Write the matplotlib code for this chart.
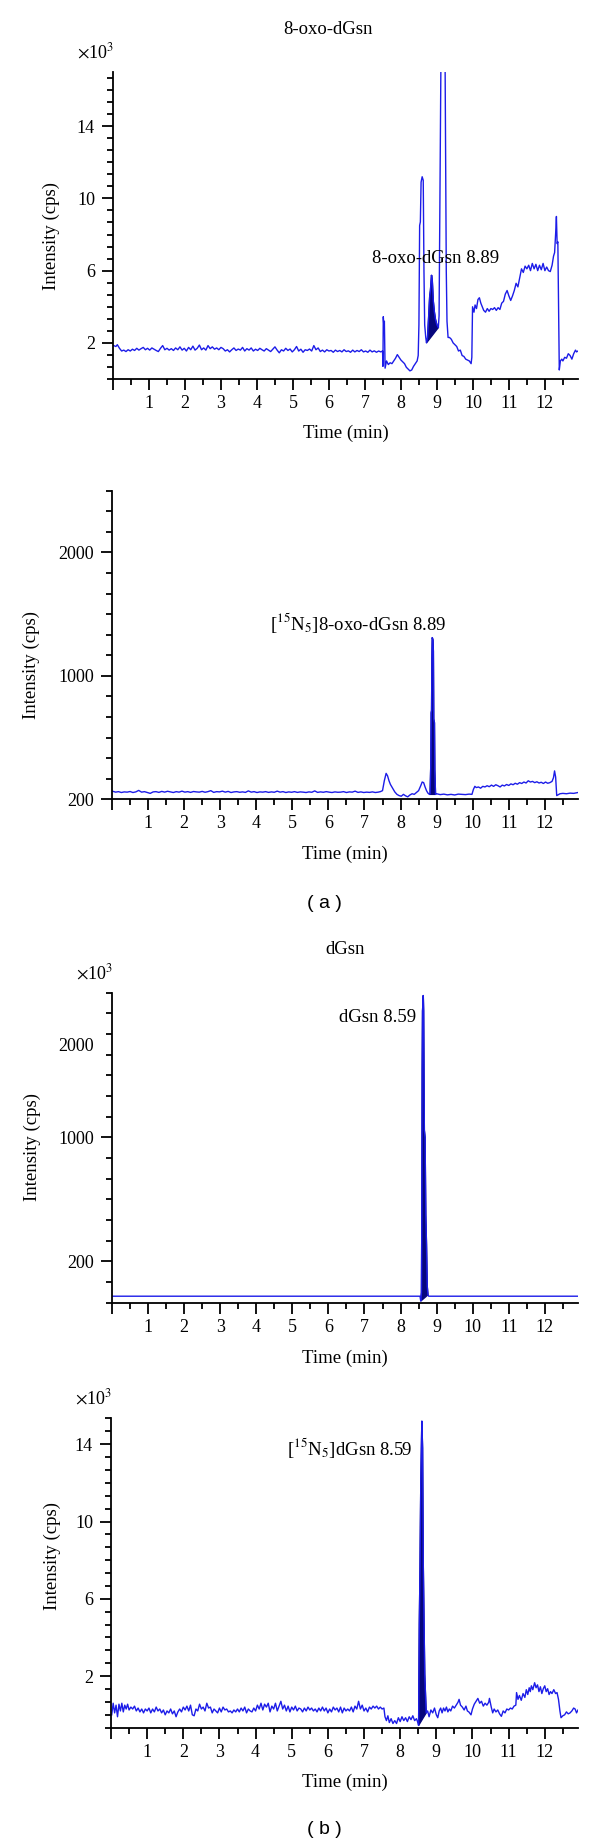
import matplotlib

matplotlib.use("Agg")
import matplotlib.pyplot as plt
import numpy as np
from matplotlib.ticker import FixedLocator, FuncFormatter, MultipleLocator

plt.rcParams["font.family"] = ["Liberation Serif", "DejaVu Serif"]
plt.rcParams["mathtext.fontset"] = "stix"

LINE = "#1c1ce8"
PEAK = "#06067c"

# --- data (time in min) ------------------------------------------------------
# (a) top: 8-oxo-dGsn, intensity x10^3 cps
OXO = [
    (0.02, 1.85), (0.08, 1.8), (0.12, 1.9), (0.18, 1.7), (0.24, 1.55), (0.3, 1.6), (0.36, 1.52),
    (0.42, 1.62), (0.48, 1.55), (0.54, 1.65), (0.6, 1.58), (0.66, 1.7), (0.72, 1.6), (0.78, 1.68),
    (0.84, 1.75), (0.9, 1.62), (0.96, 1.7), (1.02, 1.6), (1.08, 1.72), (1.14, 1.65), (1.2, 1.58),
    (1.26, 1.52), (1.32, 1.7), (1.38, 1.85), (1.44, 1.62), (1.5, 1.7), (1.56, 1.6), (1.62, 1.68),
    (1.68, 1.58), (1.74, 1.72), (1.8, 1.62), (1.86, 1.78), (1.92, 1.6), (1.98, 1.7), (2.04, 1.55),
    (2.1, 1.75), (2.16, 1.62), (2.22, 1.82), (2.28, 1.6), (2.34, 1.7), (2.4, 1.88), (2.46, 1.62),
    (2.52, 1.72), (2.58, 1.6), (2.64, 1.85), (2.7, 1.68), (2.76, 1.78), (2.82, 1.65), (2.88, 1.72),
    (2.94, 1.62), (3.0, 1.75), (3.06, 1.68), (3.12, 1.55), (3.18, 1.62), (3.24, 1.5), (3.3, 1.62),
    (3.36, 1.72), (3.42, 1.58), (3.48, 1.66), (3.54, 1.6), (3.6, 1.75), (3.66, 1.55), (3.72, 1.68),
    (3.78, 1.6), (3.84, 1.72), (3.9, 1.55), (3.96, 1.65), (4.02, 1.58), (4.08, 1.7), (4.14, 1.62),
    (4.2, 1.55), (4.26, 1.68), (4.32, 1.6), (4.38, 1.52), (4.44, 1.65), (4.5, 1.78), (4.56, 1.6),
    (4.62, 1.45), (4.68, 1.62), (4.74, 1.55), (4.8, 1.7), (4.86, 1.58), (4.92, 1.66), (4.98, 1.5),
    (5.04, 1.62), (5.1, 1.8), (5.16, 1.55), (5.22, 1.65), (5.28, 1.48), (5.34, 1.62), (5.4, 1.58),
    (5.46, 1.66), (5.52, 1.55), (5.58, 1.85), (5.64, 1.62), (5.7, 1.72), (5.76, 1.52), (5.82, 1.6),
    (5.88, 1.5), (5.94, 1.62), (6.0, 1.55), (6.06, 1.58), (6.12, 1.48), (6.18, 1.6), (6.24, 1.52),
    (6.3, 1.58), (6.36, 1.5), (6.42, 1.62), (6.48, 1.52), (6.54, 1.56), (6.6, 1.48), (6.66, 1.6),
    (6.72, 1.5), (6.78, 1.58), (6.84, 1.52), (6.9, 1.62), (6.96, 1.5), (7.02, 1.55), (7.08, 1.48),
    (7.14, 1.6), (7.2, 1.5), (7.26, 1.56), (7.32, 1.48), (7.38, 1.55), (7.44, 1.5), (7.49, 1.55),
    (7.5, 0.7), (7.51, 3.45), (7.53, 2.8), (7.54, 3.2), (7.56, 0.6), (7.6, 1.0), (7.65, 0.8),
    (7.7, 0.9), (7.75, 0.85), (7.8, 1.0), (7.85, 1.15), (7.9, 1.35), (7.95, 1.2), (8.0, 1.05),
    (8.05, 0.95), (8.1, 0.85), (8.15, 0.65), (8.2, 0.55), (8.25, 0.45), (8.3, 0.5), (8.35, 0.7),
    (8.4, 0.85), (8.45, 1.0), (8.48, 1.3), (8.5, 3.0), (8.52, 8.5), (8.54, 8.7), (8.56, 10.9),
    (8.59, 11.2), (8.62, 11.0), (8.64, 6.0), (8.66, 3.0), (8.69, 2.3), (8.71, 2.0), (8.74, 2.3),
    (8.77, 3.4), (8.8, 4.6), (8.82, 4.9), (8.85, 5.75), (8.87, 5.5), (8.9, 4.3), (8.93, 3.7),
    (8.96, 3.3), (9.0, 3.0), (9.04, 2.85), (9.06, 3.5), (9.08, 9.0), (9.1, 14.0), (9.12, 20.0),
    (9.22, 20.0), (9.24, 13.0), (9.26, 6.0), (9.28, 3.2), (9.31, 2.3), (9.35, 2.3), (9.4, 2.2),
    (9.45, 2.0), (9.5, 1.9), (9.55, 1.8), (9.6, 1.55), (9.65, 1.6), (9.7, 1.3), (9.75, 1.25),
    (9.8, 1.1), (9.85, 1.05), (9.9, 1.0), (9.95, 0.85), (9.97, 1.2), (9.99, 4.0), (10.03, 3.7),
    (10.06, 4.1), (10.1, 3.9), (10.14, 4.4), (10.18, 4.5), (10.22, 4.2), (10.26, 4.0), (10.3, 3.8),
    (10.35, 3.7), (10.4, 3.9), (10.45, 3.75), (10.5, 3.9), (10.55, 3.85), (10.6, 3.95), (10.65, 3.8),
    (10.7, 3.95), (10.75, 3.85), (10.8, 4.2), (10.85, 4.3), (10.9, 4.7), (10.95, 4.9), (11.0, 4.6),
    (11.05, 4.35), (11.1, 4.6), (11.15, 4.9), (11.2, 5.3), (11.25, 5.1), (11.3, 5.6), (11.35, 6.1),
    (11.4, 5.9), (11.45, 6.25), (11.5, 6.1), (11.55, 6.3), (11.6, 6.0), (11.65, 6.4), (11.7, 6.1),
    (11.75, 6.35), (11.8, 6.0), (11.85, 6.3), (11.9, 6.05), (11.95, 6.4), (12.0, 6.0), (12.05, 6.2),
    (12.1, 6.0), (12.15, 5.95), (12.2, 6.3), (12.24, 6.8), (12.27, 7.0), (12.3, 8.1), (12.32, 9.0),
    (12.34, 7.5), (12.36, 7.6), (12.38, 4.0), (12.4, 0.5), (12.43, 1.0), (12.47, 1.1), (12.5, 1.0),
    (12.55, 1.2), (12.6, 1.15), (12.65, 1.4), (12.7, 1.3), (12.75, 1.1), (12.8, 1.4), (12.85, 1.6),
    (12.88, 1.5), (12.92, 1.55),
]
OXO_PEAK = (8.71, 9.04)

# (a) bottom: [15N5]8-oxo-dGsn, axis units where the "200" tick sits at 0
OXO_IS = [
    (0.02, 65), (0.1, 58), (0.18, 62), (0.26, 55), (0.34, 60), (0.42, 58), (0.5, 63), (0.58, 55),
    (0.66, 60), (0.74, 72), (0.82, 58), (0.9, 62), (0.98, 55), (1.06, 48), (1.14, 60), (1.22, 62),
    (1.3, 56), (1.38, 64), (1.46, 58), (1.54, 65), (1.62, 60), (1.7, 55), (1.78, 62), (1.86, 58),
    (1.94, 66), (2.02, 58), (2.1, 62), (2.18, 56), (2.26, 63), (2.34, 60), (2.42, 58), (2.5, 64),
    (2.58, 57), (2.66, 62), (2.74, 70), (2.82, 56), (2.9, 62), (2.98, 60), (3.06, 66), (3.14, 58),
    (3.22, 64), (3.3, 55), (3.38, 60), (3.46, 62), (3.54, 57), (3.62, 60), (3.7, 56), (3.78, 68),
    (3.86, 58), (3.94, 62), (4.02, 55), (4.1, 60), (4.18, 58), (4.26, 62), (4.34, 56), (4.42, 60),
    (4.5, 57), (4.58, 66), (4.66, 58), (4.74, 62), (4.82, 55), (4.9, 60), (4.98, 57), (5.06, 62),
    (5.14, 56), (5.22, 60), (5.3, 58), (5.38, 55), (5.46, 60), (5.54, 57), (5.62, 68), (5.7, 56),
    (5.78, 60), (5.86, 57), (5.94, 62), (6.02, 58), (6.1, 55), (6.18, 60), (6.26, 57), (6.34, 58),
    (6.42, 62), (6.5, 55), (6.58, 60), (6.66, 58), (6.74, 66), (6.82, 56), (6.9, 60), (6.98, 55),
    (7.06, 58), (7.14, 56), (7.22, 60), (7.3, 55), (7.38, 58), (7.44, 62), (7.5, 70), (7.55, 150),
    (7.6, 210), (7.64, 190), (7.68, 150), (7.72, 120), (7.78, 90), (7.84, 60), (7.9, 40), (7.96, 30),
    (8.02, 25), (8.08, 40), (8.14, 28), (8.2, 20), (8.26, 35), (8.32, 45), (8.38, 40), (8.44, 55),
    (8.5, 70), (8.56, 110), (8.6, 140), (8.64, 135), (8.68, 100), (8.72, 70), (8.76, 50), (8.8, 40),
    (8.82, 45), (8.84, 300), (8.85, 700), (8.86, 720), (8.87, 1150), (8.88, 1310), (8.9, 1290),
    (8.91, 1200), (8.92, 650), (8.94, 620), (8.95, 240), (8.97, 40), (9.0, 45), (9.1, 38), (9.2, 42),
    (9.3, 36), (9.4, 40), (9.5, 35), (9.6, 42), (9.7, 40), (9.8, 38), (9.9, 42), (9.98, 40),
    (10.02, 80), (10.06, 105), (10.1, 95), (10.16, 100), (10.22, 90), (10.28, 105), (10.34, 100),
    (10.4, 110), (10.46, 102), (10.52, 115), (10.58, 105), (10.64, 118), (10.7, 110), (10.76, 100),
    (10.82, 115), (10.88, 108), (10.94, 120), (11.0, 112), (11.06, 125), (11.12, 118), (11.18, 130),
    (11.24, 122), (11.3, 135), (11.36, 128), (11.42, 140), (11.48, 132), (11.54, 150), (11.6, 140),
    (11.66, 145), (11.72, 135), (11.78, 142), (11.84, 132), (11.9, 138), (11.96, 128), (12.02, 140),
    (12.08, 130), (12.14, 135), (12.2, 145), (12.24, 175), (12.27, 230), (12.3, 180), (12.33, 30),
    (12.36, 35), (12.42, 45), (12.5, 48), (12.6, 45), (12.7, 50), (12.8, 48), (12.92, 55),
]
OXO_IS_PEAK = (8.8, 8.97)

# (b) top: dGsn, axis units where the "200" tick sits at 0
DGSN = [
    (0.0, -281), (8.54, -281), (8.56, -320), (8.58, -250), (8.59, 370), (8.6, 1540), (8.61, 2020),
    (8.63, 2144), (8.64, 2020), (8.65, 1540), (8.66, 1058), (8.68, 1000), (8.7, 375), (8.72, 134),
    (8.74, -200), (8.76, -270), (8.78, -281), (12.92, -281),
]
DGSN_PEAK = (8.56, 8.76)

# (b) bottom: [15N5]dGsn, intensity x10^3 cps
DGSN_IS = [
    (0.02, 0.0), (0.06, 0.6), (0.1, 0.1), (0.14, 0.5), (0.18, -0.1), (0.22, 0.55), (0.26, 0.2),
    (0.3, 0.6), (0.34, 0.15), (0.38, 0.5), (0.42, 0.3), (0.46, 0.55), (0.5, 0.25), (0.55, 0.4),
    (0.6, 0.3), (0.65, 0.45), (0.7, 0.2), (0.75, 0.35), (0.8, 0.15), (0.85, 0.3), (0.9, 0.1),
    (0.95, 0.3), (1.0, 0.2), (1.05, 0.35), (1.1, 0.1), (1.15, 0.3), (1.2, 0.15), (1.25, 0.4),
    (1.3, 0.2), (1.35, 0.3), (1.4, 0.1), (1.45, 0.25), (1.5, 0.0), (1.55, 0.2), (1.6, 0.1),
    (1.65, 0.3), (1.7, 0.05), (1.75, 0.2), (1.8, -0.1), (1.85, 0.15), (1.9, 0.3), (1.95, 0.15),
    (2.0, 0.4), (2.05, 0.25), (2.1, 0.45), (2.15, 0.2), (2.2, 0.5), (2.25, 0.0), (2.3, -0.05),
    (2.35, 0.3), (2.4, 0.2), (2.45, 0.55), (2.5, 0.3), (2.55, 0.4), (2.6, 0.2), (2.65, 0.6),
    (2.7, 0.35), (2.75, 0.4), (2.8, 0.1), (2.85, 0.3), (2.9, 0.2), (2.95, 0.1), (3.0, 0.35),
    (3.05, 0.15), (3.1, 0.4), (3.15, 0.25), (3.2, 0.3), (3.25, 0.15), (3.3, 0.2), (3.35, 0.1),
    (3.4, 0.25), (3.45, 0.15), (3.5, 0.3), (3.55, 0.15), (3.6, 0.35), (3.65, 0.2), (3.7, 0.4),
    (3.75, 0.1), (3.8, 0.3), (3.85, 0.2), (3.9, 0.15), (3.95, 0.35), (4.0, 0.2), (4.05, 0.5),
    (4.1, 0.3), (4.15, 0.6), (4.2, 0.25), (4.25, 0.55), (4.3, 0.4), (4.35, 0.6), (4.4, 0.15),
    (4.45, 0.45), (4.5, 0.3), (4.55, 0.6), (4.6, 0.2), (4.65, 0.45), (4.7, 0.7), (4.75, 0.3),
    (4.8, 0.5), (4.85, 0.2), (4.9, 0.45), (4.95, 0.15), (5.0, 0.4), (5.05, 0.25), (5.1, 0.45),
    (5.15, 0.2), (5.2, 0.35), (5.25, 0.3), (5.3, 0.15), (5.35, 0.35), (5.4, 0.2), (5.45, 0.4),
    (5.5, 0.25), (5.55, 0.35), (5.6, 0.2), (5.65, 0.3), (5.7, 0.15), (5.75, 0.35), (5.8, 0.2),
    (5.85, 0.4), (5.9, 0.2), (5.95, 0.35), (6.0, 0.1), (6.05, 0.3), (6.1, 0.15), (6.15, 0.4),
    (6.2, 0.25), (6.25, 0.35), (6.3, 0.15), (6.35, 0.4), (6.4, 0.1), (6.45, 0.35), (6.5, 0.2),
    (6.55, 0.3), (6.6, 0.2), (6.65, 0.4), (6.7, 0.15), (6.75, 0.45), (6.8, 0.3), (6.85, 0.7),
    (6.9, 0.3), (6.95, 0.5), (7.0, 0.2), (7.05, 0.35), (7.1, 0.15), (7.15, 0.4), (7.2, 0.3),
    (7.25, 0.45), (7.3, 0.35), (7.35, 0.45), (7.4, 0.3), (7.45, 0.4), (7.5, 0.3), (7.55, 0.35),
    (7.58, -0.1), (7.62, -0.3), (7.66, -0.05), (7.7, -0.4), (7.75, -0.2), (7.8, -0.45), (7.85, -0.3),
    (7.9, -0.45), (7.95, -0.15), (8.0, -0.35), (8.05, -0.1), (8.1, -0.3), (8.15, -0.15), (8.2, -0.35),
    (8.25, -0.1), (8.3, -0.25), (8.35, -0.05), (8.4, -0.3), (8.45, -0.2), (8.49, -0.4),
    (8.51, -0.55), (8.53, 4.7), (8.55, 7.7), (8.57, 11.9), (8.6, 15.2), (8.62, 13.8), (8.64, 7.7),
    (8.66, 4.7), (8.68, 2.1), (8.72, 0.1), (8.76, 0.2), (8.8, -0.1), (8.85, 0.25), (8.9, 0.1),
    (8.95, 0.35), (9.0, 0.0), (9.04, -0.15), (9.08, 0.2), (9.12, 0.35), (9.16, 0.1), (9.2, 0.35),
    (9.24, 0.2), (9.28, 0.4), (9.32, 0.15), (9.36, 0.3), (9.4, 0.2), (9.45, 0.45), (9.5, 0.35),
    (9.55, 0.5), (9.6, 0.65), (9.63, 0.8), (9.67, 0.5), (9.72, 0.4), (9.77, 0.25), (9.82, 0.45),
    (9.86, 0.2), (9.9, 0.15), (9.96, 0.0), (10.0, 0.3), (10.05, 0.55), (10.1, 0.7), (10.15, 0.85),
    (10.2, 0.6), (10.25, 0.7), (10.3, 0.45), (10.35, 0.6), (10.4, 0.5), (10.45, 0.65), (10.47, 0.85),
    (10.52, 0.4), (10.56, 0.1), (10.6, 0.3), (10.65, 0.15), (10.7, 0.25), (10.75, 0.05),
    (10.8, -0.08), (10.85, 0.2), (10.9, 0.1), (10.95, 0.3), (11.0, 0.25), (11.05, 0.35), (11.1, 0.3),
    (11.15, 0.45), (11.2, 0.5), (11.22, 1.15), (11.26, 0.8), (11.3, 1.0), (11.35, 0.75), (11.4, 1.1),
    (11.45, 0.9), (11.49, 1.3), (11.53, 1.05), (11.57, 1.4), (11.6, 1.2), (11.63, 1.5), (11.67, 1.3),
    (11.72, 1.66), (11.76, 1.4), (11.8, 1.55), (11.84, 1.2), (11.88, 1.45), (11.92, 1.1),
    (11.96, 1.35), (12.0, 1.5), (12.04, 1.2), (12.08, 1.35), (12.12, 1.05), (12.16, 1.2), (12.2, 1.1),
    (12.25, 1.3), (12.3, 1.1), (12.34, 1.15), (12.38, 0.8), (12.42, 0.2), (12.45, -0.15),
    (12.5, -0.05), (12.55, 0.0), (12.6, 0.15), (12.65, 0.05), (12.7, 0.1), (12.75, 0.2), (12.8, 0.35),
    (12.84, 0.3), (12.88, 0.1), (12.92, 0.25),
]
DGSN_IS_PEAK = (8.51, 8.72)

X_MAX = 12.92
Y1_TICKS, Y1_LABELS = [2, 6, 10, 14], ["2", "6", "10", "14"]
Y2_TICKS, Y2_LABELS = [0, 1000, 2000], ["200", "1000", "2000"]
Y3_TICKS, Y3_LABELS = [0, 1000, 1750], ["200", "1000", "2000"]
Y4_TICKS, Y4_LABELS = [2, 6, 10, 14], ["2", "6", "10", "14"]

W, H = 600, 1845
fig = plt.figure(figsize=(W / 100, H / 100), dpi=100)


def make_axes(l, t, r, b):
    return fig.add_axes([l / W, 1 - b / H, (r - l) / W, (b - t) / H])


def style(ax, ylim, yticks, ylabels, yminor, lab_x, lab_y):
    ax.set_xlim(0, X_MAX)
    ax.set_ylim(*ylim)
    for s in ("top", "right"):
        ax.spines[s].set_visible(False)
    for s in ("left", "bottom"):
        ax.spines[s].set_linewidth(1.3)
    ax.xaxis.set_major_locator(MultipleLocator(1))
    ax.xaxis.set_minor_locator(MultipleLocator(0.5))
    ax.xaxis.set_major_formatter(FuncFormatter(lambda v, p: "" if v < 0.5 else f"{v:.0f}"))
    ax.yaxis.set_major_locator(FixedLocator(yticks))
    ax.set_yticklabels(ylabels)
    ax.yaxis.set_minor_locator(MultipleLocator(yminor))
    ax.tick_params(which="major", length=8, width=1.3, labelsize=13)
    ax.tick_params(which="minor", length=4.5, width=1.3)
    ax.tick_params(axis="x", pad=3.5)
    ax.tick_params(axis="y", pad=5)
    ax.set_xlabel("Time (min)", fontsize=13.5, va="center")
    ax.xaxis.set_label_coords(0.5, -0.178)
    ax.set_ylabel("Intensity (cps)", fontsize=13.5, va="center")
    ax.yaxis.set_label_coords(lab_x, lab_y)


def trace(ax, pts, window):
    t, y = np.array(pts).T
    ax.plot(t, y, color=LINE, lw=1.0)
    m = (t >= window[0]) & (t <= window[1])
    ax.fill(t[m], y[m], color=PEAK, lw=1.0, ec=PEAK)


def x1000(ax):
    ax.text(-0.037, 1.064, r"$\times$10$^{3}$", transform=ax.transAxes,
            ha="center", va="center", fontsize=13)


# (a) top
ax1 = make_axes(113, 72, 578, 379)
trace(ax1, OXO, OXO_PEAK)
style(ax1, (0, 17.0), Y1_TICKS, Y1_LABELS, 2 / 3, -0.133, 0.466)
x1000(ax1)
ax1.text(8.96, 6.69, "8-oxo-dGsn 8.89", ha="center", va="center", fontsize=13.5)
fig.text(328 / W, 1 - 30 / H, "8-oxo-dGsn", ha="center", va="center", fontsize=13.5)

# (a) bottom
ax2 = make_axes(112, 490.7, 578, 799.3)
trace(ax2, OXO_IS, OXO_IS_PEAK)
style(ax2, (0, 2500), Y2_TICKS, Y2_LABELS, 1000 / 6, -0.174, 0.435)
ax2.text(6.82, 1430, r"[$^{15}$N$_{5}$]8-oxo-dGsn 8.89", ha="center", va="center", fontsize=13.5)
fig.text(324 / W, 1 - 903 / H, "( a )", ha="center", va="center", fontsize=14,
         family=["Liberation Sans", "DejaVu Sans"])

# (b) top
ax3 = make_axes(112, 992.7, 578, 1302.7)
trace(ax3, DGSN, DGSN_PEAK)
style(ax3, (-1000 / 3, 6500 / 3), Y3_TICKS, Y3_LABELS, 1000 / 6, -0.172, 0.503)
ax3.yaxis.get_major_ticks()[2].tick1line.set_visible(False)
x1000(ax3)
ax3.text(8.44, 1965, "dGsn 8.59", ha="right", va="center", fontsize=13.5)
fig.text(345.5 / W, 1 - 949 / H, "dGsn", ha="center", va="center", fontsize=13.5)

# (b) bottom
ax4 = make_axes(111, 1418.3, 578, 1727.7)
trace(ax4, DGSN_IS, DGSN_IS_PEAK)
style(ax4, (-2 / 3, 15.34), Y4_TICKS, Y4_LABELS, 2 / 3, -0.126, 0.555)
x1000(ax4)
ax4.text(8.32, 13.8, r"[$^{15}$N$_{5}$]dGsn 8.59", ha="right", va="center", fontsize=13.5)
fig.text(324 / W, 1 - 1830 / H, "( b )", ha="center", va="center", fontsize=14,
         family=["Liberation Sans", "DejaVu Sans"])

fig.savefig("out.png", dpi=100)
